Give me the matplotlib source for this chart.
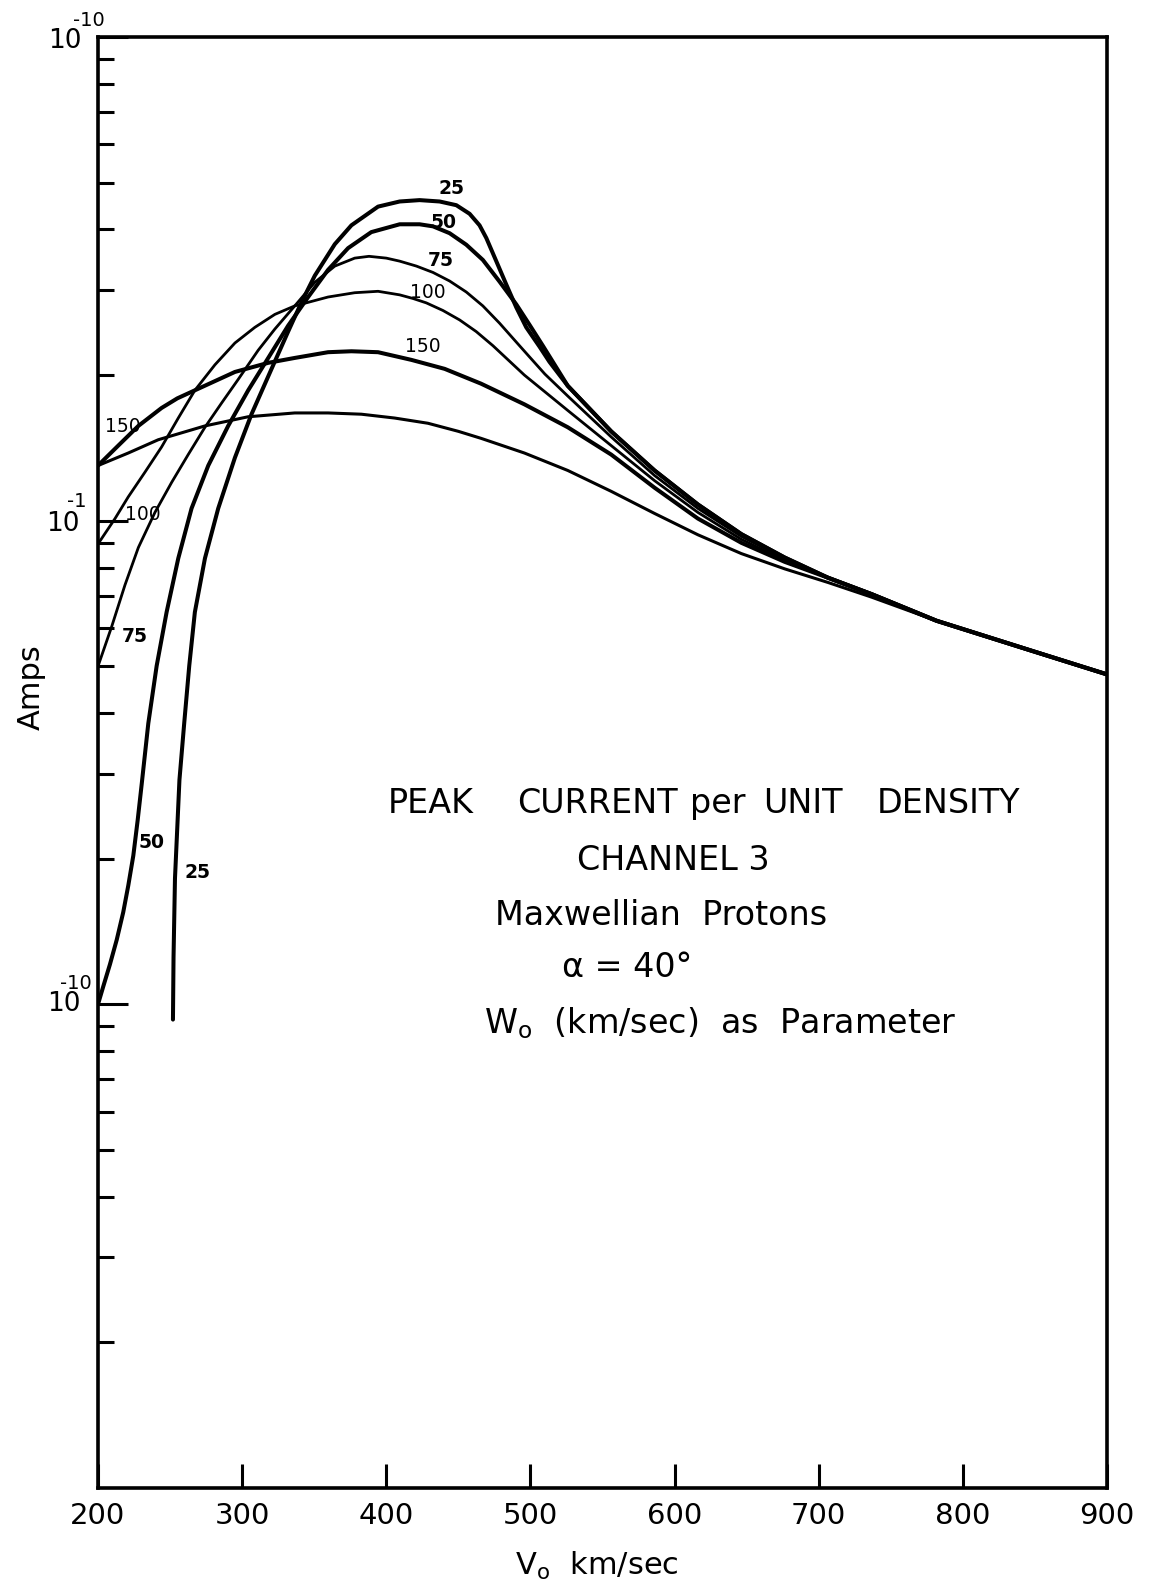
import numpy as np
import matplotlib
matplotlib.use('Agg')
import matplotlib.pyplot as plt
from matplotlib.ticker import FixedLocator, NullFormatter, NullLocator

# V0 (km/sec) and peak current per unit density (units of 1e-12 A), one pair per W0
v_25 = [252.0, 252.4, 253.4, 256.5, 259.8, 263.3, 267.2, 274.2, 283.4, 295.0, 306.5,
        320.4, 331.9, 341.2, 350.4, 364.3, 375.8, 394.3, 409.3, 423.1, 437.0, 448.6,
        457.8, 464.7, 469.4, 476.3, 483.2, 490.2, 497.1, 506.3, 513.2, 525.9, 556.0,
        586.1, 616.2, 646.3, 676.4, 706.5, 736.6, 781.7, 848.0, 900.0]
amps_25 = [0.93, 1.25, 1.82, 2.91, 3.81, 5.01, 6.47, 8.36, 10.6, 13.5, 16.6,
           20.6, 24.6, 28.3, 32.1, 37.3, 40.8, 44.6, 45.7, 46.0, 45.7, 44.9,
           43.1, 40.8, 38.4, 34.4, 30.8, 27.6, 25.1, 22.9, 21.3, 19.0, 15.3,
           12.7, 10.8, 9.38, 8.39, 7.62, 7.05, 6.21, 5.38, 4.81]

v_50 = [200.0, 203.7, 208.3, 213.0, 217.5, 221.0, 224.5, 227.5, 230.3, 234.9,
        240.7, 247.6, 255.7, 264.9, 276.5, 290.3, 304.2, 318.1, 331.9, 345.8, 359.6,
        373.5, 389.6, 409.3, 423.1, 432.4, 443.9, 455.5, 467.0, 478.6, 490.2, 499.4,
        508.6, 525.9, 556.0, 586.1, 616.2, 646.3, 676.4, 706.5, 736.6, 781.7, 848.0, 900.0]
amps_50 = [1.00, 1.09, 1.21, 1.36, 1.55, 1.76, 2.03, 2.40, 2.85, 3.81,
           5.01, 6.47, 8.36, 10.6, 13.0, 15.7, 18.6, 21.7, 25.3, 29.0, 33.0,
           36.6, 39.5, 41.0, 41.0, 40.6, 39.3, 37.2, 34.6, 31.2, 28.0, 25.4,
           23.0, 19.0, 15.3, 12.7, 10.8, 9.38, 8.39, 7.62, 7.05, 6.21, 5.38, 4.81]

v_75 = [200.0, 209.5, 218.7, 228.0, 239.5, 251.1, 262.6, 274.2, 285.7, 297.3, 311.1,
        322.7, 336.5, 350.4, 364.3, 378.1, 388.0, 400.0, 409.3, 420.9, 432.4, 443.9,
        455.5, 467.0, 478.6, 490.2, 499.4, 510.0, 525.9, 556.0, 586.1, 616.2, 646.3,
        676.4, 706.5, 736.6, 781.7, 848.0, 900.0]
amps_75 = [5.0, 6.04, 7.36, 8.80, 10.4, 12.0, 13.7, 15.6, 17.5, 19.6, 22.5,
           24.9, 27.8, 31.1, 33.6, 34.9, 35.2, 34.9, 34.4, 33.6, 32.6, 31.3,
           29.7, 27.8, 25.6, 23.4, 21.8, 20.1, 18.1, 14.9, 12.4, 10.6, 9.28,
           8.35, 7.62, 7.05, 6.21, 5.38, 4.81]

v_100 = [200.0, 211.8, 221.0, 232.6, 244.1, 255.7, 267.2, 281.1, 295.0, 308.8, 322.7,
         336.5, 359.6, 378.1, 394.3, 409.3, 418.5, 427.8, 439.3, 450.9, 462.4, 474.0,
         495.8, 525.9, 556.0, 586.1, 616.2, 646.3, 676.4, 706.5, 736.6, 781.7, 848.0, 900.0]
amps_100 = [8.95, 10.1, 11.2, 12.6, 14.2, 16.3, 18.6, 21.0, 23.3, 25.1, 26.7,
            27.8, 29.0, 29.6, 29.8, 29.3, 28.8, 28.2, 27.2, 26.0, 24.6, 23.0,
            20.0, 16.9, 14.3, 12.1, 10.4, 9.15, 8.28, 7.62, 7.05, 6.21, 5.38, 4.81]

v_150 = [200.0, 214.1, 228.0, 244.1, 255.0, 267.2, 295.0, 318.1, 336.5, 359.6, 375.8,
         394.3, 417.4, 440.5, 465.7, 495.8, 525.9, 556.0, 586.1, 616.2, 646.3, 676.4,
         706.5, 736.6, 781.7, 848.0, 900.0]
amps_150 = [13.0, 14.3, 15.7, 17.1, 17.9, 18.6, 20.3, 21.2, 21.7, 22.3, 22.4,
            22.3, 21.5, 20.6, 19.2, 17.4, 15.6, 13.7, 11.7, 10.1, 9.0, 8.22,
            7.62, 7.05, 6.21, 5.38, 4.81]

v_lowest = [200.0, 221.0, 241.8, 274.2, 304.2, 336.5, 359.6, 382.7, 405.8, 428.9, 450.0,
            465.7, 495.8, 525.9, 556.0, 586.1, 616.2, 646.3, 676.4, 706.5, 736.6, 781.7,
            848.0, 900.0]
amps_lowest = [13.0, 13.8, 14.7, 15.7, 16.4, 16.7, 16.7, 16.6, 16.3, 15.9, 15.3,
               14.8, 13.8, 12.7, 11.5, 10.35, 9.35, 8.55, 7.95, 7.45, 6.95, 6.21,
               5.38, 4.81]

x_ticks = [200, 300, 400, 500, 600, 700, 800, 900]
y_major = [1e-12, 1e-11, 1e-10]
y_base = ['10', '10', '10']
y_power = ['-10', '-1', '-10']

W, H = 1155, 1595


def px(x, y):
    # pixel position measured from the top-left corner -> figure fraction
    return x / W, 1 - y / H


plt.rcParams['font.family'] = 'DejaVu Sans'
plt.rcParams['mathtext.fontset'] = 'dejavusans'

fig = plt.figure(figsize=(W / 100, H / 100), dpi=100)
x0, y0 = px(98, 1488)
x1, y1 = px(1107, 37)
ax = fig.add_axes([x0, y0, x1 - x0, y1 - y0])

thick, thin = 2.9, 2.0
curves = [
    (v_25, amps_25, thick),
    (v_50, amps_50, thick),
    (v_75, amps_75, thin),
    (v_100, amps_100, thin),
    (v_150, amps_150, thick),
    (v_lowest, amps_lowest, 2.2),
]
for v, a, lw in curves:
    ax.plot(v, np.array(a) * 1e-12, color='black', lw=lw,
            solid_capstyle='round', solid_joinstyle='round')

ax.set_yscale('log')
ax.set_xlim(200, 900)
ax.set_ylim(1e-13, 1e-10)

ax.set_xticks(x_ticks, labels=[str(t) for t in x_ticks])
ax.xaxis.set_minor_locator(NullLocator())
ax.set_yticks(y_major)
minor = [m * 10.0 ** e for e in (-13, -12, -11) for m in range(2, 10)]
ax.yaxis.set_minor_locator(FixedLocator(minor))
ax.yaxis.set_minor_formatter(NullFormatter())

ax.tick_params(axis='x', which='major', direction='in', length=17, width=2.2,
               labelsize=21, pad=10, top=False)
ax.tick_params(axis='y', which='major', direction='in', length=21.6, width=2.2,
               labelleft=False, right=False)
ax.tick_params(axis='y', which='minor', direction='in', length=11.5, width=2.2,
               right=False)
for s in ax.spines.values():
    s.set_linewidth(2.6)

# decade labels: "10" with its power set above and to the right
base_off = [(-34, 0), (-35, -3), (-33, -4)]
power_off = [(-22, 21), (-21, 19), (-9, 16)]
for val, b, p, bo, po in zip(y_major, y_base, y_power, base_off, power_off):
    ax.annotate(b, xy=(0, val), xycoords=('axes fraction', 'data'), xytext=bo,
                textcoords='offset pixels', ha='center', va='center', fontsize=19)
    ax.annotate(p, xy=(0, val), xycoords=('axes fraction', 'data'), xytext=po,
                textcoords='offset pixels', ha='center', va='center', fontsize=14)

# axis titles
fig.text(*px(31, 687), 'Amps', rotation=90, ha='center', va='center', fontsize=22)
fig.text(*px(597, 1566), r'V$_{\mathrm{o}}$  km/sec', ha='center', va='center', fontsize=22)

# curve labels (W0 in km/sec)
curve_labels = [
    ('25', 451, 189, 'bold'), ('50', 444, 223, 'bold'), ('75', 441, 261, 'bold'),
    ('100', 428, 293, 'normal'), ('150', 423, 346, 'normal'),
    ('150', 123, 427, 'normal'), ('100', 143, 515, 'normal'), ('75', 135, 637, 'bold'),
    ('50', 152, 842, 'bold'), ('25', 197, 872, 'bold'),
]
for txt, lx, ly, wt in curve_labels:
    fig.text(*px(lx, ly), txt, ha='center', va='center', fontsize=13.5, fontweight=wt)

# caption block
cap = 24
for word, wx in [('PEAK', 388), ('CURRENT', 517), ('per', 690), ('UNIT', 763), ('DENSITY', 877)]:
    fig.text(*px(wx, 813), word, ha='left', va='baseline', fontsize=cap)
fig.text(*px(673, 870), 'CHANNEL 3', ha='center', va='baseline', fontsize=cap)
fig.text(*px(661, 925), 'Maxwellian  Protons', ha='center', va='baseline', fontsize=cap)
fig.text(*px(627, 977), 'α = 40°', ha='center', va='baseline', fontsize=cap)
fig.text(*px(720, 1033), r'W$_{\mathrm{o}}$  (km/sec)  as  Parameter', ha='center', va='baseline', fontsize=cap)

fig.savefig('out.png', dpi=100)
